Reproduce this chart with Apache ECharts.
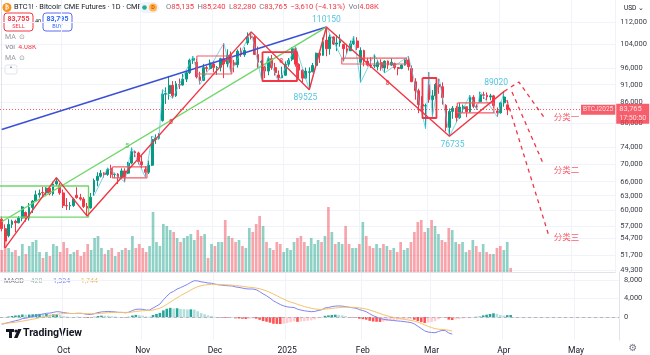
<!DOCTYPE html>
<html><head><meta charset="utf-8">
<script src="https://cdn.jsdelivr.net/npm/echarts@6/dist/echarts.min.js"></script>
<style>html,body{margin:0;padding:0;background:#fff}#c{width:650px;height:355px}</style>
</head><body><div id="c"></div>
<script>
// ---------- categories ----------
const startDate = '2024-09-05';
const holidays = ['2024-12-25', '2025-01-01', '2025-04-18'];
const totalSlots = 180;
const monthLabels = {1:'2025',2:'Feb',3:'Mar',4:'Apr',5:'May',6:'Jun',7:'Jul',8:'Aug',9:'Sep',10:'Oct',11:'Nov',12:'Dec'};
const priceTicks = [112000,104000,96000,91000,86000,80000,74000,70000,66000,63000,60000,57000,54700,51700,49300];
const macdTicks = [0,4000,8000];

// ---------- OHLC rows: [open, close, low, high] ----------
const ohlcSep = [
[58300,56500,56000,58800],[56500,54200,53000,57300],[55200,57300,54900,58300],[57300,57900,56600,58200],
[57900,57600,55800,58200],[57600,58500,57500,58900],[58500,60700,57900,60900],[59600,58500,57800,59800],
[58500,60600,58000,61500],[60600,61900,59500,62100],[61900,63200,61900,64100],[63200,63500,62600,64300],
[63700,63600,62900,64900],[63600,64600,62900,64800],[64600,63400,63100,65000],[63400,65500,63000,66000],
[65500,66100,65100,66900],[65300,63600,63200,65700]];
const ohlcOct = [
[63600,61000,60500,64300],[61000,60900,60100,62500],[60900,61000,60100,61700],[61000,62300,60700,62600],
[63100,62600,62400,64800],[62600,62300,62000,63400],[62300,60800,60500,62700],[60800,60500,58900,61500],
[60500,62700,60400,63600],[63800,66300,63000,66700],[66300,67200,65000,68100],[67200,67900,66900,68600],
[67900,67600,66900,68100],[67600,68700,67300,69100],[69000,67600,66800,69800],[67600,67700,66800,68000],
[67700,66900,65500,67900],[66900,68400,66700,69000],[68400,66900,65900,69000],[67900,70200,67700,70500],
[70200,72900,69900,73900],[72900,72600,71600,73200],[72600,70500,69900,72900]];
const ohlcNov = [
[70500,69800,69000,71900],[68700,68100,67000,69500],[68100,69700,67700,70800],[69700,75900,69500,76700],
[75900,76200,74800,77200],[76200,76900,75900,77500],[80800,88200,80500,89500],[88200,88400,85400,90200],
[88400,90800,86600,93700],[90800,87700,87000,92100],[87700,91300,87400,92100],[91000,90900,89700,92900],
[90900,92700,90700,94300],[92700,94700,91800,95200],[94700,98700,94300,99200],[98700,99300,97500,100000],
[98000,93400,92900,99200],[93400,92300,91100,95000],[92300,96300,92100,97500],[96300,96000,95000,96900],
[96000,97800,95700,98900]];
const ohlcDec = [
[97500,96300,94800,98500],[96300,96400,94000,96800],[96400,99200,95100,99500],[99200,97500,93000,104400],
[97500,100300,96400,102300],[100500,97800,94800,101600],[97800,97200,94800,98800],[97200,101700,96300,102300],
[101700,100500,99800,102900],[100500,101900,99800,103000],[104500,106600,103800,108200],[106600,106500,105700,108400],
[106500,100600,100400,107000],[100600,98000,96200,103300],[98000,98300,92700,98700],[96500,95200,93000,96900],
[95200,99200,93900,99900],[99200,96300,95600,100400],[96300,94700,93800,97800],[94000,93100,91800,95400],
[93100,93900,93000,96600]];
const ohlcJan = [
[93900,97400,93800,98300],[97400,98600,96600,99400],[99000,102500,98400,103000],[102500,97400,96600,103200],
[97400,95500,93000,97700],[95500,93000,91700,95800],[93000,95200,92700,96300],[94800,95000,89525,96400],
[95000,97000,94800,97800],[97000,101000,97000,101200],[101000,100300,97800,101300],[100300,104900,100100,106400],
[105500,102500,100000,110150],[102500,106600,100500,107500],[106600,104100,103800,106800],[104100,104500,101700,107300],
[104500,105300,103200,107500],[104000,102500,98300,104200],[102500,101800,100800,104200],[101800,104200,101800,105300],
[104200,105200,103800,106900],[105200,102900,102100,106500]];
const ohlcFeb = [
[98000,101900,91700,103000],[101900,98400,96700,102200],[98400,97100,96700,99500],[97100,96800,96200,99700],
[96800,97000,96200,100600],[96600,97900,95400,98800],[97900,96200,95300,99000],[96200,98400,94600,98600],
[98400,97100,95800,98600],[97100,98000,96800,99300],[97600,96300,95700,97900],[96300,96000,93900,96500],
[96000,97100,95800,97400],[97100,98800,96900,99200],[98800,96600,95400,100000],[96000,91900,91800,97000],
[91900,89200,86600,93000],[89200,85200,82800,89800],[85200,84800,83300,87600],[84800,84900,78700,85500]];
const ohlcMar = [
[91000,86600,85700,94900],[86600,87700,81900,89400],[87700,91100,86800,91500],[91100,90400,88300,92800],
[90400,87200,85200,91700],[85000,79000,78000,85300],[79000,83300,76735,84100],[83300,84200,81300,84800],
[84200,81600,80400,84800],[81600,84500,81300,85700],[84000,84600,83000,85200],[84600,83200,81700,84600],
[83200,87300,82900,87900],[87300,84700,84200,87900],[84700,84600,83700,85300],[86000,88000,85800,88900],
[88000,87900,86800,88900],[87900,87400,86400,88700],[87400,87700,86400,88300],[87700,84900,84200,88000],
[83400,82900,81800,84400]];
const ohlcApr = [[82900,85700,82700,86000],[85700,87375,84600,89020],[85135,83765,82280,85240]];

// ---------- volume (K contracts) ----------
const volSep = [22,30,24,20,22,16,28,18,26,30,32,20,14,20,16,28,26,20];
const volOct = [30,24,18,20,22,16,20,28,22,34,36,24,18,22,24,16,20,22,24,22,36,24,28];
const volNov = [24,20,26,60,30,26,48,46,42,40,34,30,34,36,38,32,42,36,38,14,28];
const volDec = [26,30,30,52,36,34,30,32,26,24,44,40,48,56,46,30,24,22,30,28,20];
const volJan = [24,22,30,34,36,30,26,34,28,32,30,36,65,40,28,30,28,46,28,24,24,28];
const volFeb = [50,36,26,24,28,24,28,26,22,24,20,30,22,24,30,40,50,52,40,44];
const volMar = [52,46,38,32,30,44,42,30,28,30,20,22,32,26,20,28,20,18,18,24,26];
const volApr = [22,30,4.08];

// ---------- MACD ----------
const macdLine = [
-1550,-1400,-1200,-1000,-800,-650,-350,-250,-100,100,300,500,650,800,850,1000,1150,1100,
950,850,750,750,800,800,700,550,550,750,950,1100,1150,1200,1150,1100,1000,1000,900,1050,1400,1650,1700,
1650,1500,1500,1950,2350,2800,3700,4500,5200,5550,6050,6350,6700,7050,7500,7850,7800,7600,7500,7350,7300,
7100,6950,6900,6800,6750,6700,6500,6400,6250,6100,6050,6050,5900,5500,5000,4600,4100,3500,3100,2700,2400,
2200,2100,2050,1700,1500,1350,1250,1150,1200,1400,1550,1950,2050,2250,2350,2400,2350,2250,2100,2000,1900,1600,
1400,1150,700,300,0,-300,-500,-600,-700,-750,-850,-900,-1000,-1100,-1200,-1500,-2000,-2500,-3000,-3250,
-3350,-3400,-3150,-2900,-2950,-3450,-3700];
const signalLine = [
-1400,-1350,-1300,-1220,-1130,-1020,-890,-760,-620,-480,-330,-170,-10,140,280,420,560,670,
730,760,760,760,770,780,760,720,690,700,740,800,870,930,970,1000,1000,1000,990,1000,1080,1190,1290,
1360,1390,1410,1520,1690,1910,2270,2720,3220,3690,4160,4600,5020,5420,5840,6240,6550,6760,6910,7000,7060,
7070,7050,7020,6970,6930,6880,6800,6720,6630,6530,6430,6350,6260,6110,5880,5620,5320,4960,4590,4210,3850,
3520,3240,3000,2740,2490,2260,2060,1880,1740,1670,1640,1700,1770,1860,1950,2030,2090,2120,2120,2100,2060,1970,
1860,1720,1520,1280,1020,760,500,280,80,-90,-240,-370,-500,-620,-740,-890,-1110,-1390,-1710,-2020,
-2290,-2510,-2640,-2690,-2740,-2880,-3050];
const macdHist = [
-150,-50,100,220,330,370,540,510,520,580,630,670,660,660,570,580,590,430,
220,90,-10,-10,30,20,-60,-170,-140,50,210,300,280,270,180,100,0,0,-90,50,320,460,410,
290,110,90,430,660,890,1430,1780,1980,1860,1890,1750,1680,1630,1660,1610,1250,840,590,350,240,
30,-100,-120,-170,-180,-180,-300,-320,-380,-430,-380,-300,-360,-610,-880,-1020,-1220,-1460,-1490,-1510,-1450,
-1320,-1140,-950,-1040,-990,-910,-810,-730,-540,-270,-90,250,350,450,500,450,350,200,-20,-100,-160,-370,
-460,-570,-820,-980,-1020,-1060,-1000,-880,-780,-660,-610,-530,-500,-480,-460,-610,-890,-1110,-1290,-1230,
-1060,-890,-510,-210,-210,-570,-650,
-500,-450,-300,-250,-250,-50,50,100,350,500,650,800,700,450,300,400,420];

// ---------- drawings (bar index, price) ----------
const blueLine = [[0,78460],[95,110150]];
const greenLine = [[0,57800],[95,110150]];
const greenBox = [[-0.5,65080],[25.4,65080],[25.4,58690],[-0.5,58690]];
const redZigzag = [[1,53000],[16,66900],[25,58900],[73,108400],[90,89525],[95,110150],[131,76735],[147,89020]];
const cyanZigzag = [[27,63000],[31,69100],[36,65900],[38,73900],[42,67000],[44,76700],[46,75900],[47,89500],[50,87000],
  [56,100000],[58,91100],[65,104400],[67,94800],[73,108400],[76,92700],[78,99900],[81,91800],[86,103200],[90,89525],
  [95,110150],[100,98300],[103,106900],[105,91700],[109,100600],[112,94600],[119,100000],[124,78700],[125,94900],
  [126,81900],[128,92800],[131,76735],[137,87900],[139,83700],[140,88900],[145,81800],[147,89020]];
const redBoxesThin = [[32.4,42.5,66820,69300],[57.1,67.3,94280,100070],[99.5,118.4,97460,99400],[133.3,144,82870,85660]];
const redBoxesThick = [[76.3,86.4,92120,101400],[123.1,127.2,81500,93040]];
const dashA = [[147,89020],[151.3,91820],[158.6,81770]];
const dashB = [[149.3,88830],[158.6,69750]];
const dashC = [[147.8,86510],[160,55330]];
const pivotLabels = [{x:95,p:110150,t:'110150',pos:'top',off:[0,0]},{x:90,p:89525,t:'89525',pos:'bottom',off:[-4,1]},
                     {x:131,p:76735,t:'76735',pos:'bottom',off:[3,1]},{x:147,p:89020,t:'89020',pos:'top',off:[-8,-1]}];
const scenarioLabels = [{x:160.9,p:81770,t:'分类一'},{x:160.9,p:68610,t:'分类二'},{x:160.9,p:54950,t:'分类三'}];
const waveLabels = [{x:36.7,p:74300,t:'5',c:'#5cc85c'},{x:49.5,p:80400,t:'5',c:'#f23645'},{x:81.8,p:98430,t:'8',c:'#f23645'},{x:112.9,p:91500,t:'8',c:'#f23645'}];
const lastPrice = 83765;

// ---------- build ----------
function buildDates(){const out=[];const d=new Date(startDate+'T12:00:00Z');
  while(out.length<totalSlots){const wd=d.getUTCDay();const s=d.toISOString().slice(0,10);
    if(wd!==0&&wd!==6&&holidays.indexOf(s)<0)out.push(s);d.setUTCDate(d.getUTCDate()+1);}return out;}
const dates = buildDates();
const monthStart = new Set();
for(let i=1;i<dates.length;i++){ if(dates[i].slice(5,7)!==dates[i-1].slice(5,7)) monthStart.add(i); }
const ohlc = [].concat(ohlcSep,ohlcOct,ohlcNov,ohlcDec,ohlcJan,ohlcFeb,ohlcMar,ohlcApr);
const vols = [].concat(volSep,volOct,volNov,volDec,volJan,volFeb,volMar,volApr);
const UP='#089981', DN='#f23645';
const volData = vols.map((v,i)=>({value:v,itemStyle:{color: ohlc[i][1]>=ohlc[i][0]?'rgba(8,153,129,0.45)':'rgba(242,54,69,0.45)'}}));
const histData = macdHist.map((v,i)=>{const pv=i>0?macdHist[i-1]:v;let c;
  if(v>=0) c = v>=pv?'#26a69a':'#b2dfdb'; else c = v<pv?'#ff5252':'#ffcdd2';
  return {value:v,itemStyle:{color:c}};});
const fmt = v => Math.round(v).toLocaleString('en-US');
const FONT = 'Roboto, "Noto Sans", sans-serif';

function catAxis(gi, showLabel, showSplit){
  return {type:'category',gridIndex:gi,data:dates,boundaryGap:true,
    axisLine:{show:true,lineStyle:{color:'#e0e3eb'}},axisTick:{show:false},
    axisLabel:{show:showLabel,interval:(i)=>monthStart.has(i),formatter:v=>monthLabels[+v.slice(5,7)],
      color:'#131722',fontSize:8.5,margin:6,fontFamily:FONT},
    splitLine:{show:showSplit,interval:(i)=>monthStart.has(i),lineStyle:{color:'#f0f3fa',width:1}}};
}
function boxPath(list){const out=[];list.forEach(b=>{out.push([b[0],b[3]],[b[1],b[3]],[b[1],b[2]],[b[0],b[2]],[b[0],b[3]],'-');});return out;}
function lineSeries(data,color,width,type,z){return {type:'line',xAxisIndex:1,yAxisIndex:0,data:data,symbol:'none',silent:true,z:z||5,
  lineStyle:{color:color,width:width,type:type||'solid'},connectNulls:false,animation:false};}

const chart = echarts.init(document.getElementById('c'),null,{renderer:'canvas'});
chart.setOption({
  animation:false,
  backgroundColor:'#ffffff',
  textStyle:{fontFamily:FONT},
  grid:[{left:0,right:31,top:0,height:272},{left:0,right:31,top:180,height:92},{left:0,right:31,top:272,height:68}],
  xAxis:[catAxis(0,false,true),
    {type:'value',gridIndex:0,min:-0.5,max:totalSlots-0.5,show:false},
    Object.assign(catAxis(1,false,false),{axisLine:{show:false}}),
    catAxis(2,true,true)],
  yAxis:[
    {type:'log',gridIndex:0,position:'right',min:48940,max:120470,scale:true,
      axisLine:{show:true,lineStyle:{color:'#e0e3eb'}},
      axisTick:{show:false,customValues:priceTicks},
      axisLabel:{customValues:priceTicks,formatter:v=>fmt(v),fontSize:7.5,color:'#3b3f4a',margin:5,fontFamily:FONT},
      splitLine:{show:true,lineStyle:{color:'#f0f3fa'}}},
    {type:'value',gridIndex:1,min:0,max:92,show:false},
    {type:'value',gridIndex:2,position:'right',min:-4973,max:9730,
      axisLine:{show:true,lineStyle:{color:'#e0e3eb'}},
      axisTick:{show:false,customValues:macdTicks},
      axisLabel:{customValues:macdTicks,formatter:v=>fmt(v),fontSize:7.5,color:'#3b3f4a',margin:5,fontFamily:FONT},
      splitLine:{show:true,lineStyle:{color:'#f0f3fa'}}}
  ],
  series:[
    {type:'bar',name:'vol',xAxisIndex:2,yAxisIndex:1,data:volData,barWidth:'78%',z:1,silent:true},
    {type:'candlestick',name:'BTC1!',xAxisIndex:0,yAxisIndex:0,data:ohlc,barWidth:'68%',z:3,
      itemStyle:{color:UP,color0:DN,borderColor:UP,borderColor0:DN,borderWidth:1},
      markLine:{silent:true,symbol:'none',label:{show:false},
        lineStyle:{color:'#f23645',type:[1,2],width:1,opacity:0.8},data:[{yAxis:lastPrice}]}},
    {type:'bar',name:'hist',xAxisIndex:3,yAxisIndex:2,data:histData,barWidth:'75%',z:2,silent:true,
      markLine:{silent:true,symbol:'none',label:{show:false},lineStyle:{color:'#b2b5be',type:[3,3],width:1},data:[{yAxis:0}]}},
    {type:'line',name:'macd',xAxisIndex:3,yAxisIndex:2,data:macdLine,symbol:'none',z:3,lineStyle:{color:'#7f84f2',width:1}},
    {type:'line',name:'signal',xAxisIndex:3,yAxisIndex:2,data:signalLine,symbol:'none',z:3,lineStyle:{color:'#f6c26a',width:1}},
    lineSeries(cyanZigzag,'rgba(77,200,225,0.75)',1,'solid',4),
    lineSeries(blueLine,'#3b4fd6',1.4),
    lineSeries(greenLine,'#70d66a',1.4),
    lineSeries(greenBox,'#70d66a',1.4),
    lineSeries(boxPath(redBoxesThin),'#f25c66',1.2),
    lineSeries(boxPath(redBoxesThick),'#f23645',1.8),
    lineSeries(redZigzag,'#f23645',1.4),
    lineSeries(dashA,'#f23645',1.3,[4,4]),
    lineSeries(dashB,'#f23645',1.3,[4,4]),
    lineSeries(dashC,'#f23645',1.3,[4,4]),
    {type:'scatter',xAxisIndex:1,yAxisIndex:0,symbolSize:0,z:6,silent:true,
      data:pivotLabels.map(o=>({value:[o.x,o.p],label:{show:true,formatter:o.t,position:o.pos,distance:3,offset:o.off,
        color:'#27b6d4',fontSize:8.5,fontFamily:FONT}}))},
    {type:'scatter',xAxisIndex:1,yAxisIndex:0,symbolSize:0,z:6,silent:true,
      data:scenarioLabels.map(o=>({value:[o.x,o.p],label:{show:true,formatter:o.t,position:'right',distance:2,
        color:'#f23645',fontSize:8.5,fontFamily:'"Noto Sans CJK SC", sans-serif'}}))},
    {type:'scatter',xAxisIndex:1,yAxisIndex:0,symbolSize:0,z:6,silent:true,
      data:waveLabels.map(o=>({value:[o.x,o.p],label:{show:true,formatter:o.t,position:'inside',
        color:o.c,fontSize:7,fontWeight:'bold',fontFamily:FONT}}))},
    {type:'scatter',xAxisIndex:1,yAxisIndex:0,symbolSize:0,z:7,silent:true,
      data:[
        {value:[totalSlots-0.5,lastPrice],label:{show:true,position:'left',distance:0,formatter:'BTCJ2025',
          color:'#fff',backgroundColor:'#f23645',fontSize:6.5,padding:[2,2,1,2],fontFamily:FONT}},
        {value:[totalSlots-0.5,lastPrice],label:{show:true,position:'right',distance:1,verticalAlign:'top',offset:[0,-6],
          formatter:'{a|83,765}\n{b|17:50:50}',backgroundColor:'#f23645',padding:[1,3,1,3],
          rich:{a:{color:'#fff',fontSize:7.5,lineHeight:9,fontFamily:FONT},b:{color:'#fff',fontSize:7,lineHeight:9,fontFamily:FONT}}}}
      ]}
  ],
  graphic:[
    {type:'circle',shape:{cx:7,cy:7.5,r:4.5},style:{fill:'#f7931a'}},
    {type:'text',x:7,y:7.5,style:{text:'₿',fill:'#fff',font:'bold 6px "DejaVu Sans"',align:'center',verticalAlign:'middle'}},
    {type:'text',x:14,y:7.5,style:{text:'BTC1! · Bitcoin CME Futures · 1D · CME',fill:'#131722',font:'7.4px '+FONT,verticalAlign:'middle'}},
    {type:'rect',shape:{x:139,y:2,width:20,height:11,r:5.5},style:{fill:'#f0f3fa'}},
    {type:'circle',shape:{cx:144.5,cy:7.5,r:2.3},style:{fill:'#22ab94'}},
    {type:'circle',shape:{cx:153,cy:7.5,r:4},style:{fill:'#ffb74d'}},
    {type:'text',x:153,y:7.7,style:{text:'D',fill:'#e65100',font:'bold 5.5px '+FONT,align:'center',verticalAlign:'middle'}},
    {type:'text',x:166,y:7.5,style:{text:'{l|O}{v|85,135} {l|H}{v|85,240} {l|L}{v|82,280} {l|C}{v|83,765} {v|−3,610 (−4.13%)} {l|Vol}{v|4.08K}',
      verticalAlign:'middle',rich:{l:{fill:'#787b86',font:'7.6px '+FONT},v:{fill:'#f23645',font:'7.6px '+FONT}}}},
    {type:'rect',shape:{x:4,y:13,width:29,height:18,r:3},style:{fill:'#fff',stroke:'#f23645',lineWidth:1}},
    {type:'text',x:18.5,y:19,style:{text:'83,755',fill:'#f23645',font:'bold 7px '+FONT,align:'center',verticalAlign:'middle'}},
    {type:'text',x:18.5,y:26.5,style:{text:'SELL',fill:'#f23645',font:'5.5px '+FONT,align:'center',verticalAlign:'middle'}},
    {type:'text',x:38,y:22,style:{text:'40',fill:'#131722',font:'5.5px '+FONT,align:'center',verticalAlign:'middle'}},
    {type:'rect',shape:{x:43,y:13,width:29,height:18,r:3},style:{fill:'#fff',stroke:'#5c6bf2',lineWidth:1}},
    {type:'text',x:57.5,y:19,style:{text:'83,795',fill:'#2962ff',font:'bold 7px '+FONT,align:'center',verticalAlign:'middle'}},
    {type:'text',x:57.5,y:26.5,style:{text:'BUY',fill:'#2962ff',font:'5.5px '+FONT,align:'center',verticalAlign:'middle'}},
    {type:'text',x:5,y:37,style:{text:'MA  ⊙',fill:'#9598a1',font:'7px '+FONT,verticalAlign:'middle'}},
    {type:'text',x:5,y:47.5,style:{text:'{l|Vol} {v|4.08K}',verticalAlign:'middle',rich:{l:{fill:'#787b86',font:'7px '+FONT},v:{fill:'#f23645',font:'7px '+FONT}}}},
    {type:'text',x:5,y:58,style:{text:'MA  ⊙',fill:'#9598a1',font:'7px '+FONT,verticalAlign:'middle'}},
    {type:'rect',shape:{x:5,y:65,width:12,height:9,r:2},style:{fill:'#fff',stroke:'#e0e3eb',lineWidth:1}},
    {type:'text',x:11,y:70,style:{text:'˄',fill:'#131722',font:'7px "DejaVu Sans"',align:'center',verticalAlign:'middle'}},
    {type:'text',x:624,y:8,style:{text:'USD ⌄',fill:'#131722',font:'6.5px '+FONT,verticalAlign:'middle'}},
    {type:'text',x:4,y:281,style:{text:'{l|MACD}  {g|420}  {b|−1,324}  {o|−1,744}',verticalAlign:'middle',
      rich:{l:{fill:'#787b86',font:'7px '+FONT},g:{fill:'#9fb7b2',font:'7px '+FONT},b:{fill:'#7f84f2',font:'7px '+FONT},o:{fill:'#f0b85a',font:'7px '+FONT}}}},
    {type:'rect',shape:{x:6,y:329,width:8,height:3},style:{fill:'#131722'}},
    {type:'rect',shape:{x:9,y:329,width:3,height:9},style:{fill:'#131722'}},
    {type:'circle',shape:{cx:16,cy:331,r:1.6},style:{fill:'#131722'}},
    {type:'polygon',shape:{points:[[18,329],[21.5,329],[17.5,338],[14,338]]},style:{fill:'#131722'}},
    {type:'text',x:23,y:333.5,style:{text:'TradingView',fill:'#131722',font:'bold 10.5px '+FONT,verticalAlign:'middle'}},
    {type:'text',x:633,y:348,style:{text:'⚙',fill:'#787b86',font:'10px "DejaVu Sans"',align:'center',verticalAlign:'middle'}}
  ]
});
</script></body></html>
